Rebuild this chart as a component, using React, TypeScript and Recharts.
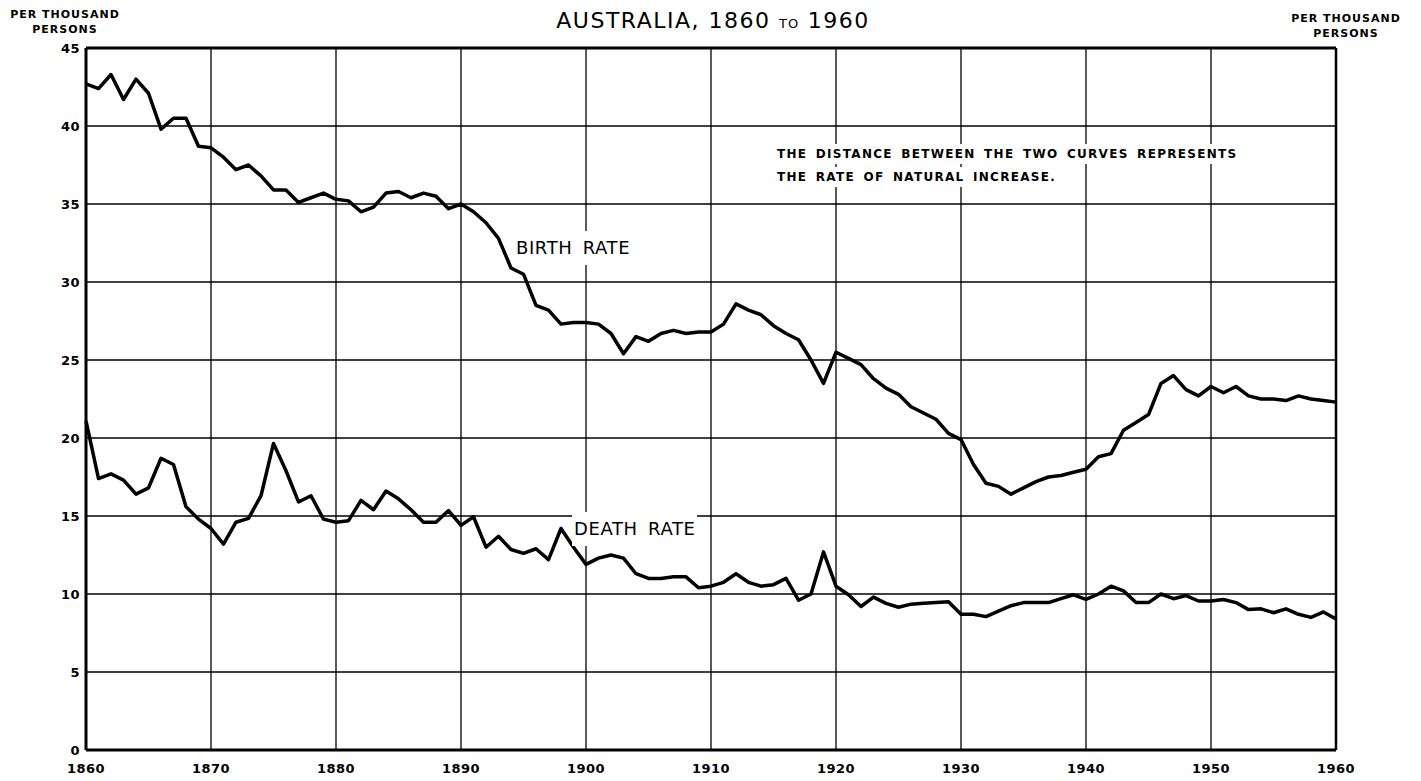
import { LineChart, Line, XAxis, YAxis, CartesianGrid, ReferenceLine } from 'recharts'

const FIRST_YEAR = 1860
const YEARS = Array.from({ length: 101 }, (_, i) => FIRST_YEAR + i)

// per thousand persons
const BIRTH_RATE = [
  42.7, 42.4, 43.3, 41.7, 43.0, 42.1, 39.8, 40.5, 40.5, 38.7,
  38.6, 38.0, 37.2, 37.5, 36.8, 35.9, 35.9, 35.1, 35.4, 35.7,
  35.3, 35.2, 34.5, 34.8, 35.7, 35.8, 35.4, 35.7, 35.5, 34.7,
  35.0, 34.5, 33.8, 32.8, 30.9, 30.5, 28.5, 28.2, 27.3, 27.4,
  27.4, 27.3, 26.7, 25.4, 26.5, 26.2, 26.7, 26.9, 26.7, 26.8,
  26.8, 27.3, 28.6, 28.2, 27.9, 27.2, 26.7, 26.3, 25.0, 23.5,
  25.5, 25.1, 24.7, 23.8, 23.2, 22.8, 22.0, 21.6, 21.2, 20.3,
  19.9, 18.3, 17.1, 16.9, 16.4, 16.8, 17.2, 17.5, 17.6, 17.8,
  18.0, 18.8, 19.0, 20.5, 21.0, 21.5, 23.5, 24.0, 23.1, 22.7,
  23.3, 22.9, 23.3, 22.7, 22.5, 22.5, 22.4, 22.7, 22.5, 22.4, 22.3,
]

const DEATH_RATE = [
  21.1, 17.4, 17.7, 17.3, 16.4, 16.8, 18.7, 18.3, 15.6, 14.8,
  14.2, 13.2, 14.6, 14.85, 16.3, 19.65, 17.9, 15.9, 16.3, 14.8,
  14.6, 14.7, 16.0, 15.4, 16.6, 16.1, 15.4, 14.6, 14.6, 15.35,
  14.4, 14.95, 13.0, 13.7, 12.85, 12.6, 12.9, 12.2, 14.2, 13.0,
  11.9, 12.3, 12.5, 12.3, 11.3, 11.0, 11.0, 11.1, 11.1, 10.4,
  10.5, 10.75, 11.3, 10.75, 10.5, 10.6, 11.0, 9.6, 10.0, 12.7,
  10.5, 9.95, 9.2, 9.8, 9.4, 9.15, 9.35, 9.4, 9.45, 9.5,
  8.7, 8.7, 8.55, 8.9, 9.25, 9.45, 9.45, 9.45, 9.7, 9.95,
  9.65, 10.0, 10.5, 10.2, 9.45, 9.45, 10.0, 9.7, 9.9, 9.55,
  9.55, 9.65, 9.45, 9.0, 9.05, 8.8, 9.05, 8.7, 8.5, 8.85, 8.4,
]

const X_TICKS = [1860, 1870, 1880, 1890, 1900, 1910, 1920, 1930, 1940, 1950, 1960]
const Y_TICKS = [0, 5, 10, 15, 20, 25, 30, 35, 40, 45]

const data = YEARS.map((year, i) => ({ year, birth: BIRTH_RATE[i], death: DEATH_RATE[i] }))

const FONT = '"DejaVu Sans", sans-serif'
const tickStyle = { fill: '#000', fontSize: 13, fontWeight: 700, fontFamily: FONT, letterSpacing: 0.5 }

const unitStyle: React.CSSProperties = {
  position: 'absolute',
  width: 130,
  textAlign: 'center',
  fontFamily: FONT,
  fontWeight: 700,
  fontSize: 11,
  lineHeight: '15px',
  letterSpacing: 1,
}

const boxText: React.CSSProperties = {
  position: 'absolute',
  background: '#fff',
  fontFamily: FONT,
  whiteSpace: 'nowrap',
  color: '#000',
}

const noteText: React.CSSProperties = {
  ...boxText,
  left: 772,
  padding: '3px 5px',
  fontSize: 12,
  fontWeight: 700,
  letterSpacing: 1.3,
  wordSpacing: 3,
}

const curveLabel: React.CSSProperties = {
  ...boxText,
  padding: '6px 2px',
  fontSize: 18,
  letterSpacing: 0.6,
  wordSpacing: 4,
  lineHeight: '22px',
}

export default function App() {
  return (
    <div style={{ position: 'absolute', left: 0, top: 0, width: 1421, height: 781, background: '#fff' }}>
      <LineChart width={1421} height={781} data={data} margin={{ top: 48, right: 45, bottom: 0, left: 46 }}>
        <CartesianGrid yAxisId="left" stroke="#000" strokeWidth={1.3} />
        <XAxis
          dataKey="year"
          type="number"
          domain={[1860, 1960]}
          ticks={X_TICKS}
          interval={0}
          height={31}
          tickLine={false}
          tickSize={12}
          axisLine={{ stroke: '#000', strokeWidth: 3 }}
          tick={tickStyle}
        />
        <YAxis
          yAxisId="left"
          domain={[0, 45]}
          ticks={Y_TICKS}
          interval={0}
          width={40}
          tickLine={false}
          tickSize={4}
          tickMargin={2}
          axisLine={{ stroke: '#000', strokeWidth: 3 }}
          tick={tickStyle}
        />
        <YAxis
          yAxisId="right"
          orientation="right"
          domain={[0, 45]}
          ticks={Y_TICKS}
          interval={0}
          width={40}
          tickLine={false}
          tickSize={6}
          tickMargin={3}
          axisLine={{ stroke: '#000', strokeWidth: 2.5 }}
          tick={tickStyle}
        />
        <ReferenceLine yAxisId="left" y={45} stroke="#000" strokeWidth={3} />
        <Line
          yAxisId="left"
          dataKey="birth"
          type="linear"
          stroke="#000"
          strokeWidth={3.5}
          strokeLinejoin="round"
          dot={false}
          isAnimationActive={false}
        />
        <Line
          yAxisId="left"
          dataKey="death"
          type="linear"
          stroke="#000"
          strokeWidth={3.5}
          strokeLinejoin="round"
          dot={false}
          isAnimationActive={false}
        />
      </LineChart>

      <div
        style={{
          position: 'absolute',
          left: 713,
          top: 9,
          transform: 'translateX(-50%)',
          fontFamily: FONT,
          fontSize: 22,
          lineHeight: '24px',
          letterSpacing: 1.5,
          whiteSpace: 'nowrap',
        }}
      >
        AUSTRALIA, 1860 <span style={{ fontSize: 13, letterSpacing: 1 }}>TO</span> 1960
      </div>

      <div style={{ ...unitStyle, left: 0, top: 7 }}>
        PER THOUSAND
        <br />
        PERSONS
      </div>
      <div style={{ ...unitStyle, left: 1281, top: 11 }}>
        PER THOUSAND
        <br />
        PERSONS
      </div>

      <div style={{ ...noteText, top: 144 }}>THE DISTANCE BETWEEN THE TWO CURVES REPRESENTS</div>
      <div style={{ ...noteText, top: 167 }}>THE RATE OF NATURAL INCREASE.</div>

      <div style={{ ...curveLabel, left: 514, top: 231 }}>BIRTH RATE</div>
      <div style={{ ...curveLabel, left: 572, top: 512 }}>DEATH RATE</div>
    </div>
  )
}
